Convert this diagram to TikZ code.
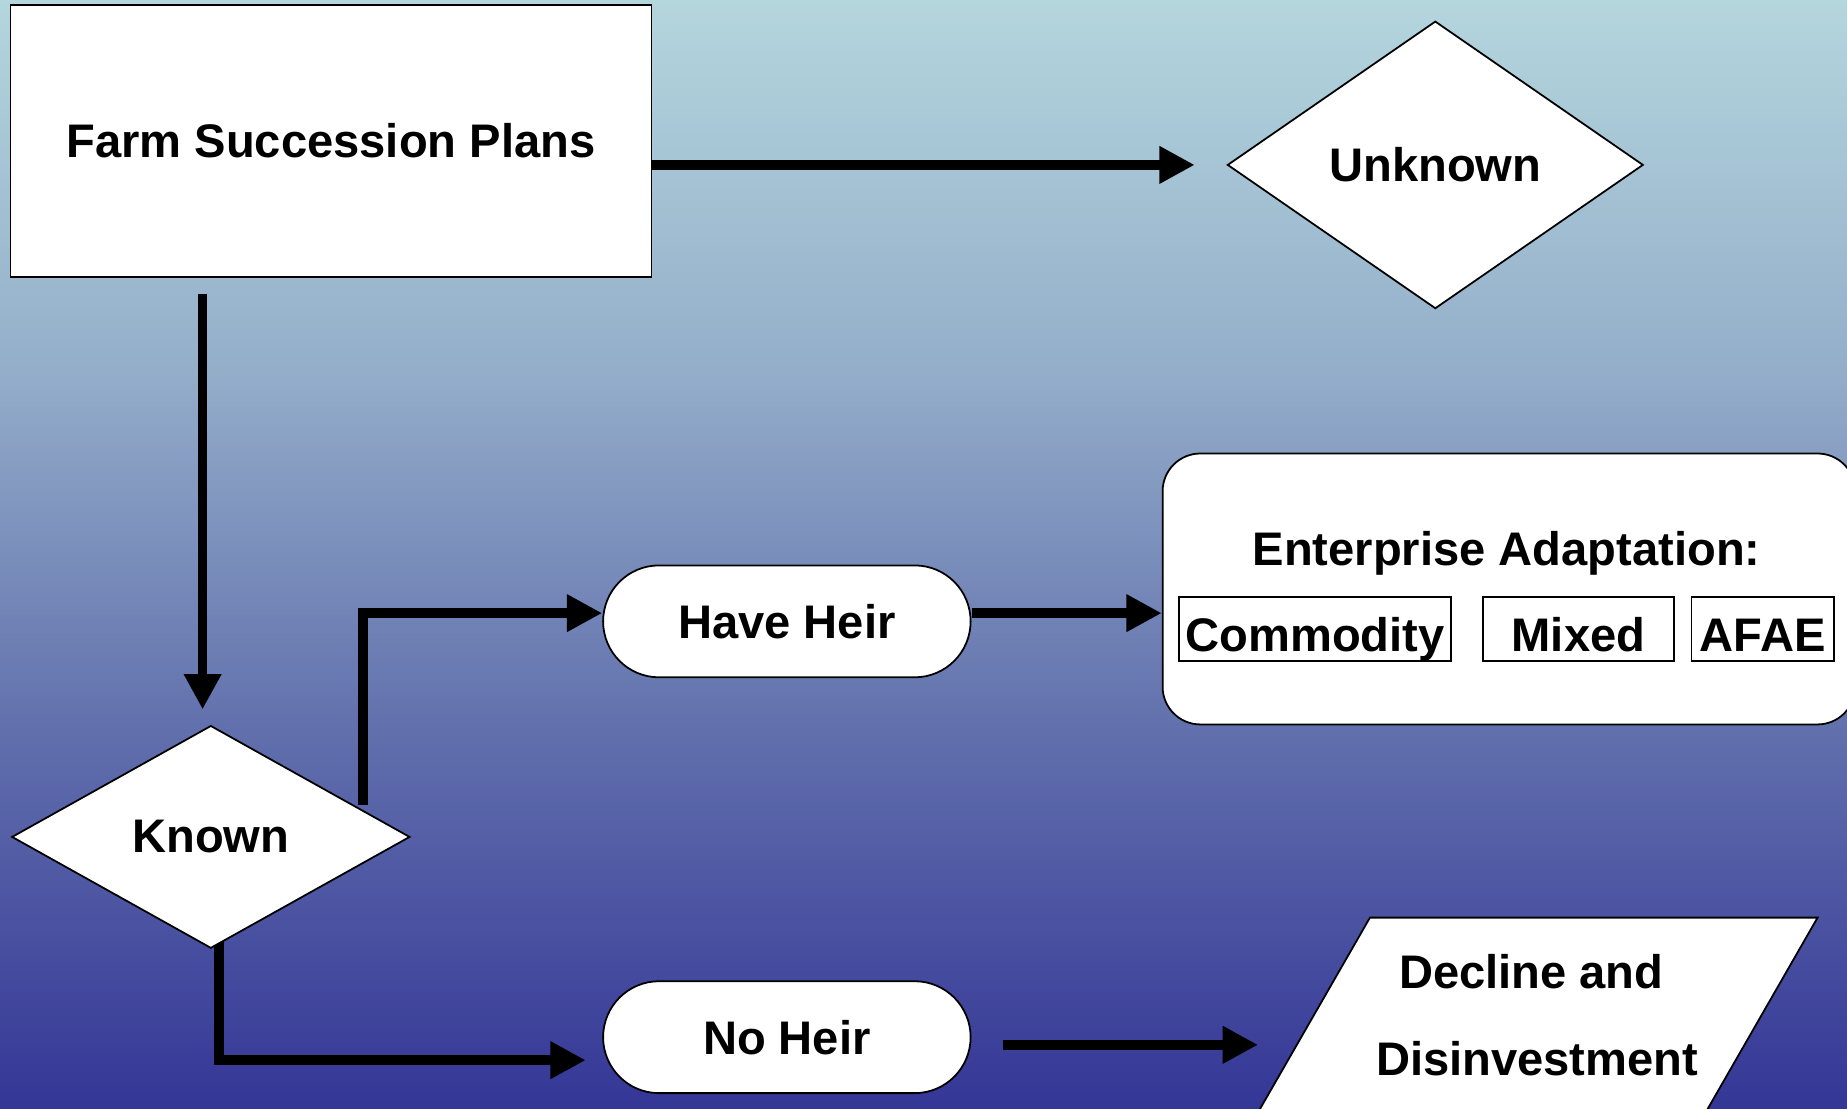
\documentclass[tikz,border=0pt]{standalone}
\usepackage{fontspec}
\setmainfont{Liberation Sans}
\usetikzlibrary{arrows.meta,shapes.geometric,backgrounds}
\definecolor{bgA}{RGB}{180,214,221}
\definecolor{bgB}{RGB}{148,174,202}
\definecolor{bgC}{RGB}{96,110,172}
\definecolor{bgD}{RGB}{52,54,150}
\pgfdeclareverticalshading{bgshade}{100bp}{color(0bp)=(bgD); color(25bp)=(bgD); color(41.67bp)=(bgC); color(58.33bp)=(bgB); color(75bp)=(bgA); color(100bp)=(bgA)}
\begin{document}
\begin{tikzpicture}[x=0.5pt,y=-0.5pt,
  lbl/.style={font=\fontsize{20}{24}\selectfont\bfseries},
  shapebox/.style={draw=black, line width=0.75pt, fill=white, inner sep=0pt, lbl},
  subbox/.style={draw=black, line width=0.75pt, fill=white, inner sep=0pt, lbl,
    minimum height=27pt, text height=19pt, text depth=0pt},
  conn/.style={line width=4pt, -{Triangle[length=15pt,width=15pt]}, line join=miter}]
\useasboundingbox (0,0) rectangle (1568,941);
\clip (0,0) rectangle (1568,941);

% nodes
\node[shapebox, rectangle, minimum width=272pt, minimum height=115.5pt] (fsp) at (281,119.5) {Farm Succession Plans};
\node[shapebox, diamond, minimum width=176.5pt, minimum height=122pt] (unk) at (1218.5,140) {Unknown};
\node[shapebox, diamond, minimum width=169pt, minimum height=94.5pt] (known) at (179,710.5) {Known};
\node[shapebox, rectangle, rounded corners=23.75pt, minimum width=156pt, minimum height=47.5pt] (hh) at (668,527.5) {Have Heir};
\node[shapebox, rectangle, rounded corners=23.75pt, minimum width=156pt, minimum height=47.5pt] (nh) at (668,880.5) {No Heir};
\node[shapebox, rectangle, rounded corners=16pt, minimum width=294pt, minimum height=115pt] (ent) at (1281,500) {};
\node[lbl, anchor=base] (enttitle) at (1279,480) {Enterprise Adaptation:};
\node[subbox, minimum width=115.5pt] (com) at (1116.5,534) {Commodity};
\node[subbox, minimum width=81pt] (mix) at (1340,534) {Mixed};
\node[subbox, minimum width=60.5pt] (afae) at (1496.5,534) {AFAE};

\draw[fill=white, line width=0.75pt] (1163,779) -- (1543,779) -- (1439,960) -- (1059,960) -- cycle;
\node[lbl, anchor=base] (dec1) at (1300,839) {Decline and};
\node[lbl, anchor=base] (dec2) at (1305,913) {Disinvestment};

% connectors
\coordinate (kh) at (308,683);
\coordinate (decin) at (1068,887);
\begin{scope}[on background layer]
\shade[shading=bgshade] (0,0) rectangle (1568,941);
\draw[conn] (fsp.east |- unk.west) -- ([xshift=-13.5pt]unk.west);
\draw[conn] ([xshift=-3.5pt,yshift=-7pt]fsp.south -| known.north) -- ([xshift=-3.5pt,yshift=6.5pt]known.north);
\draw[conn] (kh) |- ([yshift=3.5pt]hh.west);
\draw[conn] ([yshift=3.5pt]hh.east) -- ([yshift=3.5pt]hh.east -| ent.west);
\draw[conn] ([xshift=3.5pt,yshift=10pt]known.south) |- ([xshift=-7pt,yshift=-9.75pt]nh.west);
\draw[conn] ([xshift=13.5pt,yshift=-3.25pt]nh.east) -- (decin);
\end{scope}
\end{tikzpicture}
\end{document}
